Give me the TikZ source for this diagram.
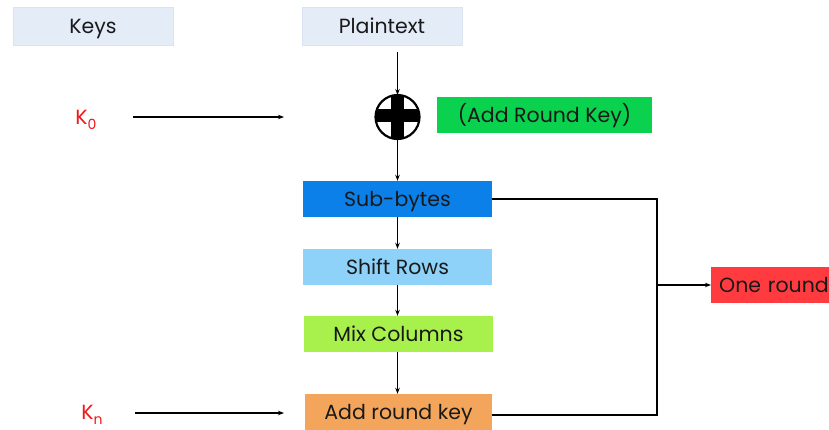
\documentclass[tikz,border=0pt]{standalone}
\usepackage{fontspec}
\setmainfont{Poppins}
\usetikzlibrary{arrows.meta}
\definecolor{paleblue}{HTML}{E4ECF8}
\definecolor{paleedge}{HTML}{D9E3F2}
\definecolor{addgreen}{HTML}{0AD24E}
\definecolor{subblue}{HTML}{0A80E8}
\definecolor{shiftblue}{HTML}{8ED2FA}
\definecolor{mixgreen}{HTML}{A8F04C}
\definecolor{addorange}{HTML}{F3A65B}
\definecolor{roundred}{HTML}{FF3B40}
\definecolor{keyred}{HTML}{F01818}
\newcommand{\lowsub}[1]{\raisebox{-5pt}{\fontsize{14}{16}\selectfont #1}}
\tikzset{
  x=1pt, y=-1pt,
  every node/.style={font=\fontsize{20.5}{24}\selectfont, text=black!90, text height=18pt, text depth=3.6pt},
  header/.style={fill=paleblue, draw=paleedge, line width=0.8pt, minimum width=160pt, minimum height=38pt, inner sep=0pt},
  stage/.style={minimum width=189pt, minimum height=36pt, inner sep=0pt},
  keylabel/.style={text=keyred},
  flow/.style={line width=1.2pt, -{Stealth[length=6pt,width=4.5pt]}},
  link/.style={line width=1.3pt}
}
\begin{document}
\begin{tikzpicture}
\useasboundingbox (0,0) rectangle (829,429);

% column headers
\node[header] (keys) at (93,26) {Keys};
\node[header] (plain) at (382,26) {Plaintext};

% XOR with the first round key
\coordinate (xor) at (397.5,117);
\begin{scope}
  \clip (xor) circle (22);
  \fill[white] (xor) circle (22);
  \draw[line width=13pt] (397.5,93) -- (397.5,141);
  \draw[line width=13pt] (373,115) -- (422,115);
\end{scope}
\draw[line width=2.2pt] (xor) circle (22);
\coordinate (xortop) at (397.5,95);
\coordinate (xorbot) at (397.5,139);
\coordinate (xorleft) at (284,117);
\node[fill=addgreen, minimum width=215pt, minimum height=36pt, inner sep=0pt] (ark) at (544.5,115) {(Add Round Key)};

% round keys
\node[keylabel] (k0) at (86,117) {K\lowsub{0}};
\node[keylabel] (kn) at (92,412) {K\lowsub{n}};
\coordinate (k0start) at (133,117);
\coordinate (knstart) at (135,413);
\coordinate (knend) at (284,413);

% round stages
\node[stage, fill=subblue] (sub) at (397.5,199) {Sub-bytes};
\node[stage, fill=shiftblue] (shift) at (397.5,267) {Shift Rows};
\node[stage, fill=mixgreen] (mix) at (398.5,334) {Mix Columns};
\node[stage, fill=addorange, minimum width=187pt] (addk) at (398.5,412) {Add round key};

% one round label, running off the right edge
\node[fill=roundred, minimum height=36pt, inner sep=0pt, text width=140pt, align=left, anchor=west] (one) at (711,285) {\hspace{8pt}One round};

% flow arrows, all on one vertical line
\coordinate (spine) at (397.5,0);
\coordinate (plainout) at (397.5,52);
\draw[flow] (plainout) -- (xortop);
\draw[flow] (k0start) -- (xorleft);
\draw[flow] (xorbot) -- (spine |- sub.north);
\draw[flow] (spine |- sub.south) -- (spine |- shift.north);
\draw[flow] (spine |- shift.south) -- (spine |- mix.north);
\draw[flow] (spine |- mix.south) -- (spine |- addk.north);
\draw[flow] (knstart) -- (knend);

% bracket grouping one round
\coordinate (brtop) at (657,199);
\coordinate (brbot) at (657,415);
\coordinate (brmid) at (657,285);
\draw[link] (sub.east) -- (brtop) -- (brbot) -- (addk.east |- brbot);
\draw[flow] (brmid) -- (one.west);
\end{tikzpicture}
\end{document}
